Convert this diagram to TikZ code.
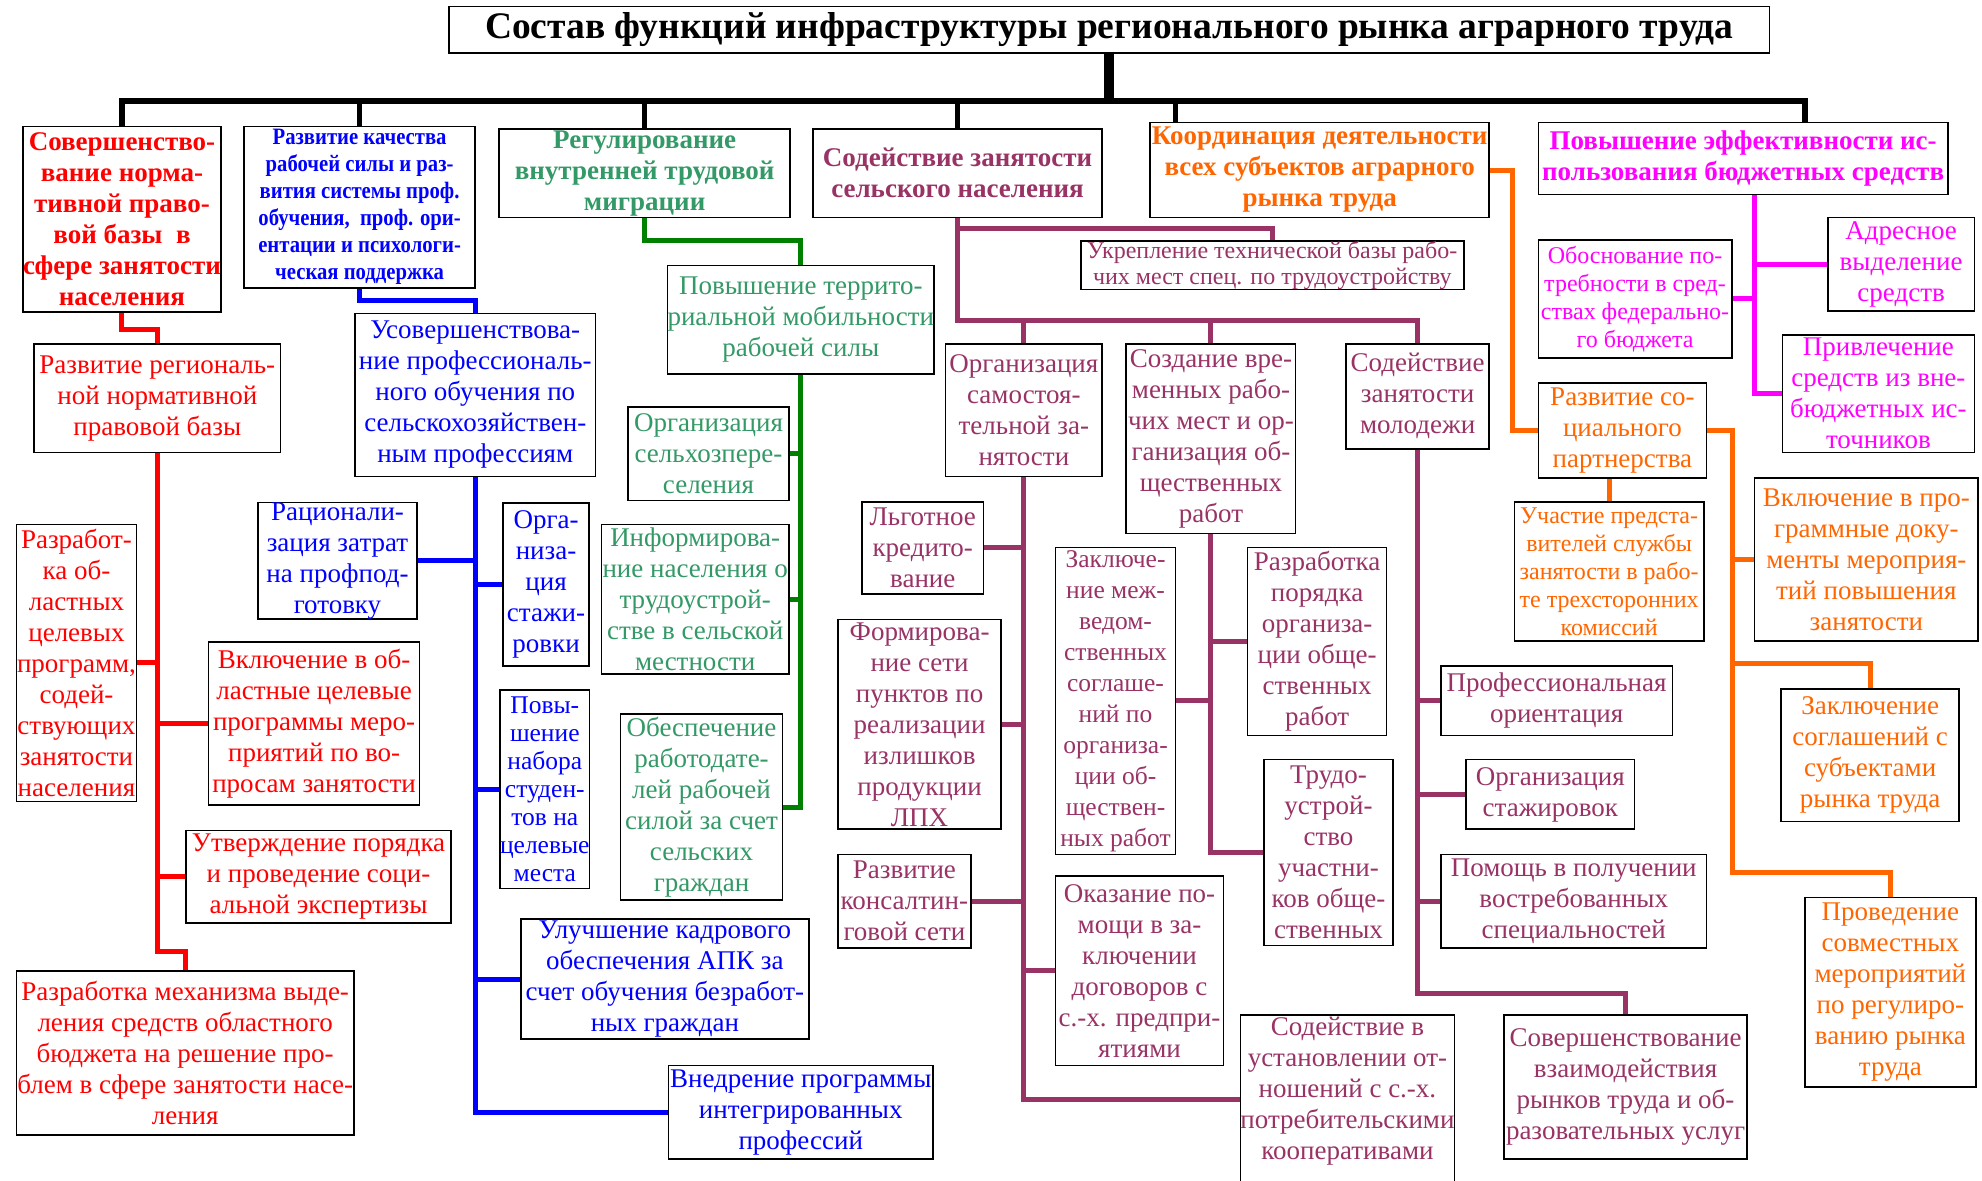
\documentclass[tikz,border=0pt]{standalone}
\usepackage{fontspec}
\setmainfont{Liberation Serif}
\newfontfamily\narrowfont[FakeStretch=0.88]{Liberation Serif}
\usepackage{xcolor}
\usepackage{tikz}
\usetikzlibrary{backgrounds}

\definecolor{redtone}{HTML}{FF0000}
\definecolor{bluetone}{HTML}{0000FF}
\definecolor{greentext}{HTML}{339966}
\definecolor{greenline}{HTML}{008000}
\definecolor{maroontone}{HTML}{993366}
\definecolor{orangetone}{HTML}{FF6600}
\definecolor{magentatone}{HTML}{FF00FF}

\tikzset{
  spot/.style n args={4}{
    at={({(#1+#3)/2},{(#2+#4)/2})},
    minimum width={(#3-#1)*1.264pt}, minimum height={(#4-#2)*1.264pt}
  },
  box/.style={
    draw, line width=1.6pt, fill=white, align=center, inner sep=0pt
  },
  headbox/.style={
    box, font=\bfseries\fontsize{27}{31}\selectfont
  },
  textbox/.style={
    box, font=\fontsize{27}{31}\selectfont
  },
  tightbox/.style={
    box, font=\fontsize{25.5}{29}\selectfont
  },
  smallbox/.style={
    box, font=\fontsize{24}{28}\selectfont
  },
  link/.style={line width=5pt, line join=miter},
  redlink/.style={link, draw=redtone},
  bluelink/.style={link, draw=bluetone},
  greenlink/.style={link, draw=greenline},
  maroonlink/.style={link, draw=maroontone},
  orangelink/.style={link, draw=orangetone},
  magentalink/.style={link, draw=magentatone},
  buslink/.style={line width=6.5pt, line join=miter, draw=black},
}

\begin{document}
\begin{tikzpicture}[x=1.264pt, y=-1.264pt]
  \useasboundingbox (0,0) rectangle (1568,934);

  % ── Title ──────────────────────────────────────────────────────
  \node[box, font=\bfseries\fontsize{37.5}{40}\selectfont,
        spot={355}{5}{1400}{42}] (title)
    {Состав функций инфраструктуры регионального рынка аграрного труда};

  % ── Main function boxes ────────────────────────────────────────
  \node[headbox, text=redtone, spot={18}{100}{175}{247}] (f1)
    {Совершенство-\\вание норма-\\тивной право-\\вой базы~~в\\сфере занятости\\населения};
  \node[box, text=bluetone, font=\narrowfont\bfseries\fontsize{23.5}{27}\selectfont,
        spot={193}{100}{376}{228}] (f2)
    {Развитие качества\\рабочей силы и раз-\\вития системы проф.\\обучения,~~проф. ори-\\ентации и психологи-\\ческая поддержка};
  \node[headbox, text=greentext, spot={395}{102}{625}{172}] (f3)
    {Регулирование\\внутренней трудовой\\миграции};
  \node[headbox, text=maroontone, spot={643}{102}{872}{172}] (f4)
    {Содействие занятости\\сельского населения};
  \node[headbox, text=orangetone, spot={910}{97}{1178}{172}] (f5)
    {Координация деятельности\\всех субъектов аграрного\\рынка труда};
  \node[headbox, text=magentatone, spot={1217}{97}{1541}{154}] (f6)
    {Повышение эффективности ис-\\пользования бюджетных средств};

  % ── Legal base (red) ───────────────────────────────────────────
  \node[textbox, text=redtone, spot={27}{272}{222}{358}] (legal)
    {Развитие региональ-\\ной нормативной\\правовой базы};
  \node[textbox, text=redtone, spot={13}{415}{108}{634}] (legalprog)
    {Разработ-\\ка об-\\ластных\\целевых\\программ,\\содей-\\ствующих\\занятости\\населения};
  \node[textbox, text=redtone, spot={165}{508}{332}{637}] (legalincl)
    {Включение в об-\\ластные целевые\\программы меро-\\приятий по во-\\просам занятости};
  \node[textbox, text=redtone, spot={147}{657}{357}{730}] (legalexp)
    {Утверждение порядка\\и проведение соци-\\альной экспертизы};
  \node[textbox, text=redtone, spot={13}{768}{280}{898}] (legalfund)
    {Разработка механизма выде-\\ления средств областного\\бюджета на решение про-\\блем в сфере занятости насе-\\ления};

  % ── Training (blue) ────────────────────────────────────────────
  \node[textbox, text=bluetone, spot={281}{248}{471}{377}] (train)
    {Усовершенствова-\\ние профессиональ-\\ного обучения по\\сельскохозяйствен-\\ным профессиям};
  \node[textbox, text=bluetone, spot={204}{398}{330}{489}] (traincost)
    {Рационали-\\зация затрат\\на профпод-\\готовку};
  \node[textbox, text=bluetone, spot={398}{398}{466}{527}] (trainintern)
    {Орга-\\низа-\\ция\\стажи-\\ровки};
  \node[box, text=bluetone, font=\fontsize{25.5}{28}\selectfont,
        spot={396}{546}{466}{703}] (trainstud)
    {Повы-\\шение\\набора\\студен-\\тов на\\целевые\\места};
  \node[textbox, text=bluetone, spot={412}{727}{640}{822}] (trainstaff)
    {Улучшение кадрового\\обеспечения АПК за\\счет обучения безработ-\\ных граждан};
  \node[textbox, text=bluetone, spot={529}{843}{738}{917}] (trainint)
    {Внедрение программы\\интегрированных\\профессий};

  % ── Migration (green) ──────────────────────────────────────────
  \node[textbox, text=greentext, spot={529}{210}{738}{296}] (mob)
    {Повышение террито-\\риальной мобильности\\рабочей силы};
  \node[textbox, text=greentext, spot={497}{322}{624}{396}] (mobresettle)
    {Организация\\сельхозпере-\\селения};
  \node[textbox, text=greentext, spot={476}{415}{624}{533}] (mobinfo)
    {Информирова-\\ние населения о\\трудоустрой-\\стве в сельской\\местности};
  \node[textbox, text=greentext, spot={491}{565}{619}{712}] (mobsupply)
    {Обеспечение\\работодате-\\лей рабочей\\силой за счет\\сельских\\граждан};

  % ── Rural employment (maroon) ──────────────────────────────────
  \node[box, text=maroontone, font=\fontsize{24}{26}\selectfont,
        spot={855}{192}{1158}{228}] (techbase)
    {Укрепление технической базы рабо-\\чих мест спец. по трудоустройству};
  \node[textbox, text=maroontone, spot={748}{272}{872}{377}] (self)
    {Организация\\самостоя-\\тельной за-\\нятости};
  \node[textbox, text=maroontone, spot={891}{272}{1025}{422}] (temp)
    {Создание вре-\\менных рабо-\\чих мест и ор-\\ганизация об-\\щественных\\работ};
  \node[textbox, text=maroontone, spot={1065}{272}{1178}{355}] (youth)
    {Содействие\\занятости\\молодежи};

  \node[textbox, text=maroontone, spot={682}{397}{778}{470}] (selfcredit)
    {Льготное\\кредито-\\вание};
  \node[textbox, text=maroontone, spot={663}{490}{792}{656}] (selfnet)
    {Формирова-\\ние сети\\пунктов по\\реализации\\излишков\\продукции\\ЛПХ};
  \node[textbox, text=maroontone, spot={663}{676}{768}{750}] (selfconsult)
    {Развитие\\консалтин-\\говой сети};
  \node[textbox, text=maroontone, spot={835}{693}{968}{843}] (selfcontract)
    {Оказание по-\\мощи в за-\\ключении\\договоров с\\с.-х. предпри-\\ятиями};
  \node[textbox, text=maroontone, spot={982}{803}{1150}{965}] (selfcoop)
    {Содействие в\\установлении от-\\ношений с с.-х.\\потребительскими\\кооперативами\\[28pt]};

  \node[box, text=maroontone, font=\fontsize{25.5}{31}\selectfont,
        spot={835}{433}{930}{676}] (tempagree)
    {Заключе-\\ние меж-\\ведом-\\ственных\\соглаше-\\ний по\\организа-\\ции об-\\ществен-\\ных работ};
  \node[textbox, text=maroontone, spot={987}{433}{1097}{582}] (temporder)
    {Разработка\\порядка\\организа-\\ции обще-\\ственных\\работ};
  \node[textbox, text=maroontone, spot={1000}{601}{1102}{748}] (tempjob)
    {Трудо-\\устрой-\\ство\\участни-\\ков обще-\\ственных};

  \node[textbox, text=maroontone, spot={1140}{527}{1323}{582}] (youthorient)
    {Профессиональная\\ориентация};
  \node[textbox, text=maroontone, spot={1160}{601}{1293}{656}] (youthintern)
    {Организация\\стажировок};
  \node[textbox, text=maroontone, spot={1140}{676}{1350}{750}] (youthspec)
    {Помощь в получении\\востребованных\\специальностей};
  \node[textbox, text=maroontone, spot={1190}{803}{1382}{917}] (youthedu)
    {Совершенствование\\взаимодействия\\рынков труда и об-\\разовательных услуг};

  % ── Coordination (orange) ──────────────────────────────────────
  \node[textbox, text=orangetone, spot={1217}{303}{1350}{378}] (partner)
    {Развитие со-\\циального\\партнерства};
  \node[smallbox, text=orangetone, spot={1198}{397}{1348}{507}] (partnercomm)
    {Участие предста-\\вителей службы\\занятости в рабо-\\те трехсторонних\\комиссий};
  \node[textbox, text=orangetone, spot={1388}{378}{1565}{507}] (partnerdoc)
    {Включение в про-\\граммные доку-\\менты мероприя-\\тий повышения\\занятости};
  \node[textbox, text=orangetone, spot={1409}{545}{1550}{650}] (partneragree)
    {Заключение\\соглашений с\\субъектами\\рынка труда};
  \node[textbox, text=orangetone, spot={1428}{710}{1563}{860}] (partnerjoint)
    {Проведение\\совместных\\мероприятий\\по регулиро-\\ванию рынка\\труда};

  % ── Budget (magenta) ───────────────────────────────────────────
  \node[textbox, text=magentatone, spot={1446}{172}{1562}{246}] (budgetaddr)
    {Адресное\\выделение\\средств};
  \node[smallbox, text=magentatone, spot={1217}{190}{1370}{283}] (budgetneed)
    {Обоснование по-\\требности в сред-\\ствах федерально-\\го бюджета};
  \node[textbox, text=magentatone, spot={1410}{265}{1562}{358}] (budgetextra)
    {Привлечение\\средств из вне-\\бюджетных ис-\\точников};

  % ── Connectors ─────────────────────────────────────────────────
  \begin{scope}[on background layer]
    % black bus
    \coordinate (bus5) at (930,80);
    \coordinate (bus6) at (1428,80);
    \draw[line width=10pt] (title.south) -- (title.south |- bus6);
    \draw[buslink] (f1.north) |- (bus6) -- (bus6 |- f6.north);
    \draw[link] (f2.north) -- (f2.north |- bus6);
    \draw[link] (f3.north) -- (f3.north |- bus6);
    \draw[link] (f4.north) -- (f4.north |- bus6);
    \draw[link] (bus5) -- (bus5 |- f5.north);

    % red
    \draw[redlink] (f1.south) -- ++(0,13) -| (legal.north);
    \draw[redlink] (legal.south) -- ++(0,394) -| (legalfund.north);
    \draw[redlink] (legalprog.east) -- (legalprog.east -| legal.south);
    \draw[redlink] (legalincl.west) -- (legalincl.west -| legal.south);
    \draw[redlink] (legalexp.west) -- (legalexp.west -| legal.south);

    % blue
    \draw[bluelink] (f2.south) -- ++(0,9) -| (train.north);
    \draw[bluelink] (train.south) |- (trainint.west);
    \draw[bluelink] (traincost.east) -- (traincost.east -| train.south);
    \draw[bluelink] (trainintern.west) -- (trainintern.west -| train.south);
    \draw[bluelink] (trainstud.west) -- (trainstud.west -| train.south);
    \draw[bluelink] (trainstaff.west) -- (trainstaff.west -| train.south);

    % green
    \draw[greenlink] (f3.south) -- ++(0,18) -| (mob.north);
    \draw[greenlink] (mob.south) |- (mobsupply.east);
    \draw[greenlink] (mobresettle.east) -- (mobresettle.east -| mob.south);
    \draw[greenlink] (mobinfo.east) -- (mobinfo.east -| mob.south);

    % maroon
    \draw[maroonlink] (f4.south) -- ++(0,81) -| (youth.north);
    \draw[maroonlink] (f4.south) -- ++(0,8) -| (techbase.north);
    \draw[maroonlink] (self.north) -- ++(0,-19);
    \draw[maroonlink] (temp.north) -- ++(0,-19);
    \draw[maroonlink] (self.south) |- (selfcoop.west |- 0,870);
    \draw[maroonlink] (selfcredit.east) -- (selfcredit.east -| self.south);
    \draw[maroonlink] (selfnet.east) -- (selfnet.east -| self.south);
    \draw[maroonlink] (selfconsult.east) -- (selfconsult.east -| self.south);
    \draw[maroonlink] (selfcontract.west) -- (selfcontract.west -| self.south);
    \draw[maroonlink] (temp.south) |- (tempjob.west);
    \draw[maroonlink] (tempagree.east) -- (tempagree.east -| temp.south);
    \draw[maroonlink] (temporder.west) -- (temporder.west -| temp.south);
    \draw[maroonlink] (youth.south) -- ++(0,430) -| (youthedu.north);
    \draw[maroonlink] (youthorient.west) -- (youthorient.west -| youth.south);
    \draw[maroonlink] (youthintern.west) -- (youthintern.west -| youth.south);
    \draw[maroonlink] (youthspec.west) -- (youthspec.west -| youth.south);

    % orange
    \draw[orangelink] (f5.east) -- ++(18,0) |- (partner.west);
    \draw[orangelink] (partnercomm.north) -- (partnercomm.north |- partner.south);
    \draw[orangelink] (partner.east) -- ++(20,0) coordinate (otrunk)
      -- (otrunk |- 0,690) -| (partnerjoint.north);
    \draw[orangelink] (otrunk |- 0,525) -| (partneragree.north);
    \draw[orangelink] (partnerdoc.west) -- (partnerdoc.west -| otrunk);

    % magenta
    \coordinate (mtrunk) at ([xshift=11pt]f6.south);
    \draw[magentalink] (mtrunk) |- (budgetextra.west);
    \draw[magentalink] (budgetaddr.west) -- (budgetaddr.west -| mtrunk);
    \draw[magentalink] (budgetneed.east) -- (budgetneed.east -| mtrunk);
  \end{scope}
\end{tikzpicture}
\end{document}
